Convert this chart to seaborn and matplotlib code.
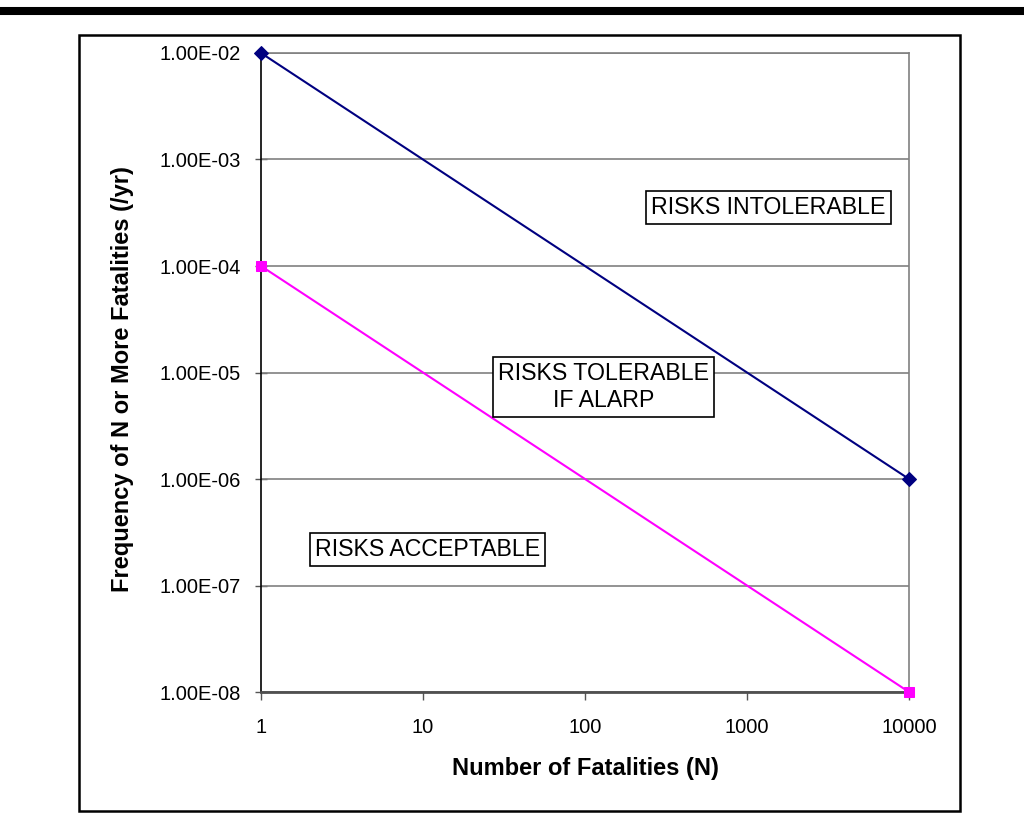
import matplotlib
matplotlib.use("Agg")
import matplotlib.pyplot as plt
from matplotlib.patches import Rectangle
from matplotlib.lines import Line2D
from matplotlib.ticker import FixedLocator, FuncFormatter, NullLocator
import seaborn as sns
import pandas as pd

# F-N criterion lines: frequency of N or more fatalities per year
fatalities = [1, 10000]
intolerable_limit = [1e-2, 1e-6]
acceptable_limit = [1e-4, 1e-8]

x_ticks = [1, 10, 100, 1000, 10000]
y_ticks = [1e-8, 1e-7, 1e-6, 1e-5, 1e-4, 1e-3, 1e-2]

region_labels = ["RISKS INTOLERABLE", "RISKS TOLERABLE\nIF ALARP", "RISKS ACCEPTABLE"]

sns.set_style("white")
plt.rcParams["font.family"] = ["Liberation Sans", "DejaVu Sans"]
plt.rcParams.update({"text.color": "black", "axes.labelcolor": "black",
                     "xtick.color": "black", "ytick.color": "black"})

fig = plt.figure(figsize=(10.24, 8.22), dpi=100)
ax = fig.add_axes([261 / 1024, 1 - 692 / 822, 648 / 1024, 639 / 822])

df = pd.DataFrame({
    "N": fatalities * 2,
    "F": intolerable_limit + acceptable_limit,
    "line": ["upper"] * 2 + ["lower"] * 2,
})

ax.set_xscale("log")
ax.set_yscale("log")
ax.set_xlim(1, 10000)
ax.set_ylim(1e-8, 1e-2)

# horizontal gridlines at each decade
for yv in y_ticks:
    ax.axhline(yv, color="#808080", lw=1.2, zorder=1)

sns.lineplot(data=df[df.line == "upper"], x="N", y="F", ax=ax, color="#000080",
             marker="D", markersize=7, markeredgecolor="#000080", lw=1.5,
             zorder=5, clip_on=False)
sns.lineplot(data=df[df.line == "lower"], x="N", y="F", ax=ax, color="#FF00FF",
             marker="s", markersize=7, markeredgecolor="#FF00FF", lw=1.5,
             zorder=5, clip_on=False)

ax.xaxis.set_major_locator(FixedLocator(x_ticks))
ax.xaxis.set_minor_locator(NullLocator())
ax.yaxis.set_major_locator(FixedLocator(y_ticks))
ax.yaxis.set_minor_locator(NullLocator())
ax.xaxis.set_major_formatter(FuncFormatter(lambda v, p: f"{v:.0f}"))
ax.yaxis.set_major_formatter(FuncFormatter(lambda v, p: f"{v:.2E}"))

ax.tick_params(axis="x", direction="out", length=6, width=1, color="#555555",
               labelsize=14.5, pad=13, bottom=True)
ax.tick_params(axis="y", direction="inout", length=9, width=1, color="#555555",
               labelsize=14.5, pad=10, left=True)

for side in ["top", "right"]:
    ax.spines[side].set_color("#808080")
    ax.spines[side].set_linewidth(1.2)
ax.spines["left"].set_color("black")
ax.spines["left"].set_linewidth(1.2)
ax.spines["bottom"].set_color("#505050")
ax.spines["bottom"].set_linewidth(2)

ax.set_xlabel("Number of Fatalities (N)", fontsize=17, fontweight="bold")
ax.set_ylabel("Frequency of N or More Fatalities (/yr)", fontsize=17, fontweight="bold")
ax.xaxis.set_label_coords(0.5, -0.102)
ax.yaxis.set_label_coords(-0.196, 0.49)

box = dict(boxstyle="square,pad=0.22", facecolor="white", edgecolor="black", lw=1.2)
ax.text(0.783, 0.758, region_labels[0], transform=ax.transAxes, ha="center",
        va="center", fontsize=16.7, bbox=box, zorder=6)
ax.text(0.529, 0.477, region_labels[1], transform=ax.transAxes, ha="center",
        va="center", fontsize=16.7, bbox=box, zorder=6, linespacing=1.2)
ax.text(0.257, 0.223, region_labels[2], transform=ax.transAxes, ha="center",
        va="center", fontsize=16.7, bbox=box, zorder=6)

# outer chart frame and heavy rule across the top of the page
fig.patches.append(Rectangle((79 / 1024, 1 - 811 / 822), 881 / 1024, 776 / 822,
                             transform=fig.transFigure, fill=False,
                             edgecolor="black", lw=1.8))
fig.lines.append(Line2D([0, 1], [1 - 11 / 822, 1 - 11 / 822],
                        transform=fig.transFigure, color="black", lw=5.8))

fig.savefig("out.png", dpi=100)
